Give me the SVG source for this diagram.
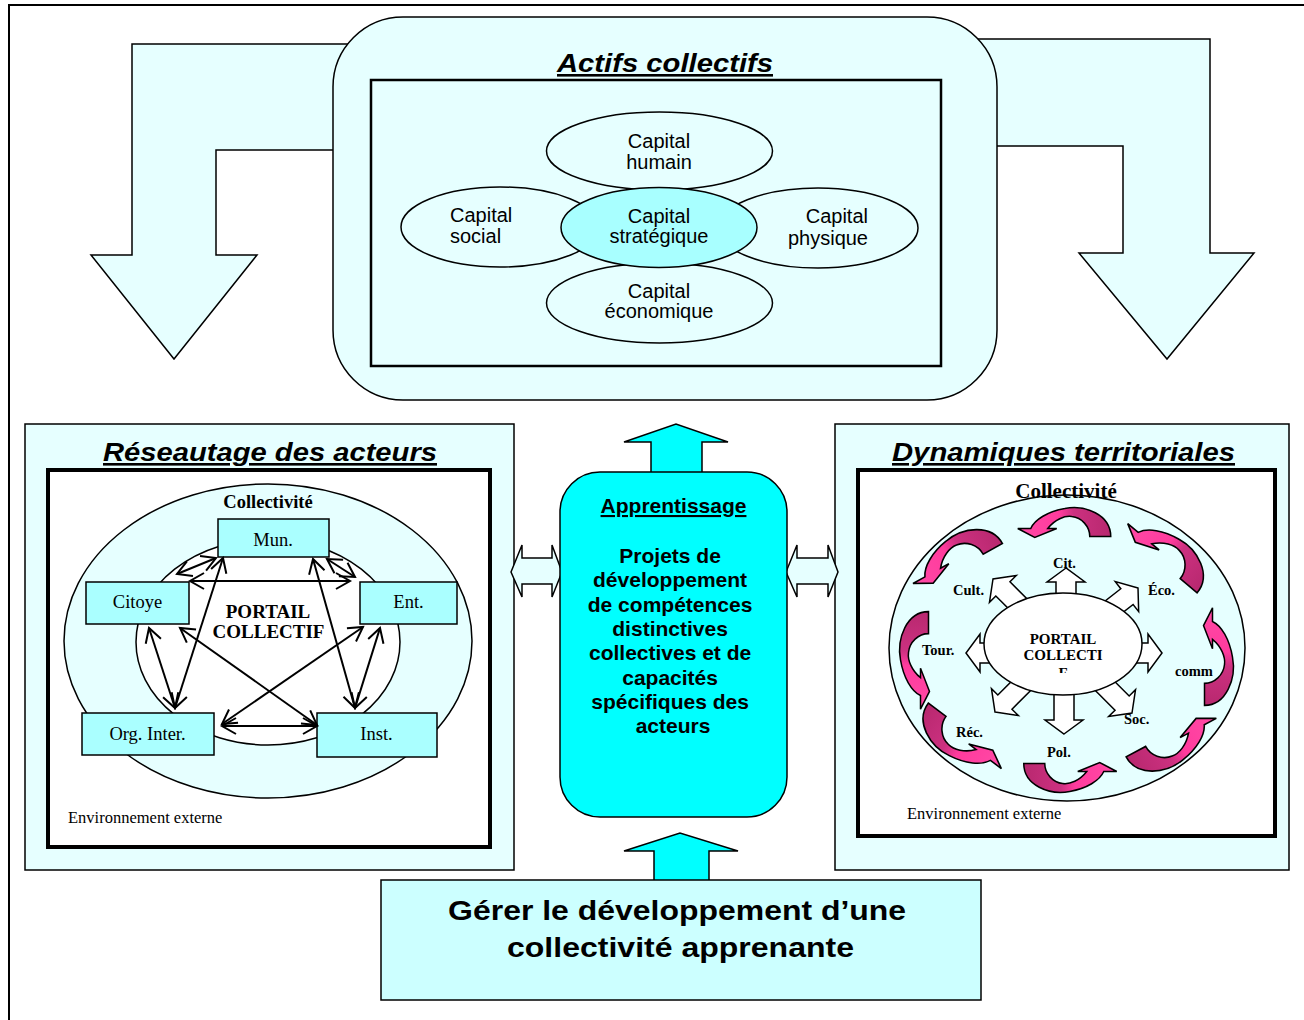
<svg xmlns="http://www.w3.org/2000/svg" xmlns:xlink="http://www.w3.org/1999/xlink" width="1304" height="1020" viewBox="0 0 1304 1020">
<style>
.sans{font-family:"Liberation Sans",Arial,sans-serif}
.serif{font-family:"Liberation Serif","Times New Roman",serif}
.title{font-weight:bold;font-style:italic;font-size:26px;text-decoration:underline}
.cap{font-size:20px}
.app{font-weight:bold;font-size:21px}
.lt{fill:#e6ffff;stroke:#000;stroke-width:1.5}
.box{fill:#aaffff;stroke:#000;stroke-width:1.5}
.frame{fill:#fff;stroke:#000;stroke-width:4}
.line{fill:none;stroke:#000;stroke-width:2;marker-start:url(#ah);marker-end:url(#ah)}
.cyan{fill:#00ffff;stroke:#000;stroke-width:1.5}
.wa{fill:#fff;stroke:#000;stroke-width:1.5}
.pa{fill:url(#pk);stroke:#000;stroke-width:1.5;stroke-linejoin:miter}
.lbl{font-weight:bold;font-size:14.5px}
</style>
<defs>
<marker id="ah" markerUnits="userSpaceOnUse" markerWidth="20" markerHeight="20" viewBox="-16 -10 20 20" refX="0" refY="0" orient="auto-start-reverse">
<path d="M-14,-8 L0,0 L-14,8" fill="none" stroke="#000" stroke-width="2"/>
</marker>
<linearGradient id="pk" x1="1" y1="0" x2="0" y2="0">
<stop offset="0" stop-color="#b8286f"/>
<stop offset="0.4" stop-color="#cc3180"/>
<stop offset="0.55" stop-color="#ff3b9d"/>
<stop offset="1" stop-color="#ff4aa6"/>
</linearGradient>
<path id="wa" d="M0,0 L-14,-19 L-14,-10 L-50,-10 L-50,10 L-14,10 L-14,19 Z"/>
<path id="pa" d="M46,12 C46,-10 20,-20 0,-16 C-17,-13 -30,-5 -34,4 L-47,4 L-30,13 L-8,4 L-17,4 C-10,-5 0,-9 7,-8 C17,-7 25,2 25,12 Z"/>
<clipPath id="fclip"><rect x="1000" y="600" width="130" height="73"/></clipPath>
</defs>

<rect width="1304" height="1020" fill="#fff"/>
<path d="M9,1020 V5 H1304" fill="none" stroke="#000" stroke-width="2"/>

<g id="connectors-back">
<polygon class="lt" points="360,44 132,44 132,255 91,255 174,359 257,255 216,255 216,150 360,150"/>
<polygon class="lt" points="960,39 1210,39 1210,253 1254,253 1167,359 1079,253 1123,253 1123,146 960,146"/>
</g>

<g id="actifs">
<rect class="lt" x="333" y="17" width="664" height="383" rx="70" ry="70"/>
<rect x="371" y="80" width="570" height="286" fill="#e6ffff" stroke="#000" stroke-width="2.5"/>
<text class="sans title" x="665" y="72" text-anchor="middle" textLength="216" lengthAdjust="spacingAndGlyphs">Actifs collectifs</text>
<g id="cap-humain"><ellipse class="lt" cx="659.5" cy="151" rx="113" ry="39"/>
<text class="sans cap" text-anchor="middle"><tspan x="659" y="148">Capital</tspan><tspan x="659" y="169">humain</tspan></text></g>
<g id="cap-economique"><ellipse class="lt" cx="659.5" cy="303" rx="113" ry="40"/>
<text class="sans cap" text-anchor="middle"><tspan x="659" y="298">Capital</tspan><tspan x="659" y="318">économique</tspan></text></g>
<g id="cap-social"><ellipse class="lt" cx="500" cy="227" rx="99" ry="40"/>
<text class="sans cap"><tspan x="450" y="222">Capital</tspan><tspan x="450" y="243">social</tspan></text></g>
<g id="cap-physique"><ellipse class="lt" cx="818" cy="228" rx="100" ry="40"/>
<text class="sans cap" text-anchor="end"><tspan x="868" y="223">Capital</tspan><tspan x="868" y="245">physique</tspan></text></g>
<g id="cap-strategique"><ellipse cx="659" cy="227.5" rx="98" ry="40" fill="#a8ffff" stroke="#000" stroke-width="1.5"/>
<text class="sans cap" text-anchor="middle"><tspan x="659" y="223">Capital</tspan><tspan x="659" y="243">stratégique</tspan></text></g>
</g>

<g id="reseautage">
<rect class="lt" x="25" y="424" width="489" height="446"/>
<text class="sans title" x="270" y="461" text-anchor="middle" textLength="334" lengthAdjust="spacingAndGlyphs">Réseautage des acteurs</text>
<rect class="frame" x="48" y="470" width="442" height="377"/>
<ellipse class="lt" cx="268" cy="641" rx="204" ry="157"/>
<ellipse cx="268" cy="642" rx="132" ry="103" fill="#fff" stroke="#000" stroke-width="1.5"/>
<text class="serif" x="268" y="508" text-anchor="middle" font-weight="bold" font-size="18.5">Collectivité</text>
<text class="serif" font-weight="bold" font-size="19" text-anchor="middle"><tspan x="268" y="618">PORTAIL</tspan><tspan x="268.5" y="638">COLLECTIF</tspan></text>
<text class="serif" x="68" y="823" font-size="16.5">Environnement externe</text>
<g id="mun"><rect class="box" x="218" y="519" width="111" height="38"/><text class="serif" x="273" y="546" text-anchor="middle" font-size="18.5">Mun.</text></g>
<g id="citoye"><rect class="box" x="86" y="582" width="103" height="42"/><text class="serif" x="137.5" y="608" text-anchor="middle" font-size="18.5">Citoye</text></g>
<g id="ent"><rect class="box" x="360" y="582" width="97" height="42"/><text class="serif" x="408.5" y="608" text-anchor="middle" font-size="18.5">Ent.</text></g>
<g id="org"><rect class="box" x="82" y="713" width="132" height="42"/><text class="serif" x="147.5" y="740" text-anchor="middle" font-size="18.5">Org. Inter.</text></g>
<g id="inst"><rect class="box" x="317" y="713" width="120" height="44"/><text class="serif" x="376.5" y="740" text-anchor="middle" font-size="18.5">Inst.</text></g>
</g>

<g id="dynamiques">
<rect class="lt" x="835" y="424" width="454" height="446"/>
<text class="sans title" x="1063.5" y="461" text-anchor="middle" textLength="343" lengthAdjust="spacingAndGlyphs">Dynamiques territoriales</text>
<rect class="frame" x="858" y="470" width="417" height="366"/>
<ellipse class="lt" cx="1067" cy="648" rx="178" ry="153"/>
<g id="radial-arrows">
<use xlink:href="#wa" class="wa" transform="translate(1066,568) rotate(-90)"/>
<use xlink:href="#wa" class="wa" transform="translate(1064,734) rotate(90)"/>
<use xlink:href="#wa" class="wa" transform="translate(966,653) rotate(180)"/>
<use xlink:href="#wa" class="wa" transform="translate(1162,653)"/>
<use xlink:href="#wa" class="wa" transform="translate(993,579) rotate(-135)"/>
<use xlink:href="#wa" class="wa" transform="translate(1138,588) rotate(-38)"/>
<use xlink:href="#wa" class="wa" transform="translate(995,712) rotate(135)"/>
<use xlink:href="#wa" class="wa" transform="translate(1132,713) rotate(45)"/>
</g>
<ellipse cx="1063" cy="644" rx="79" ry="51" fill="#fff" stroke="#000" stroke-width="1.5"/>
<text class="serif" font-weight="bold" font-size="15" text-anchor="middle"><tspan x="1063" y="644">PORTAIL</tspan><tspan x="1063" y="660">COLLECTI</tspan></text>
<text class="serif" font-weight="bold" font-size="15" text-anchor="middle" x="1063" y="678" clip-path="url(#fclip)">F</text>
<g id="curved-arrows">
<use xlink:href="#pa" class="pa" transform="translate(1067.5,537) translate(-2.75,-12.5)"/>
<use xlink:href="#pa" class="pa" transform="translate(1162,564) rotate(40) scale(1.05) translate(-2.75,-12.5)"/>
<use xlink:href="#pa" class="pa" transform="translate(1204,660) rotate(90) scale(1.05,1) translate(-2.75,-12.5)"/>
<use xlink:href="#pa" class="pa" transform="translate(1166,735) rotate(152) scale(1.05) translate(-2.75,-12.5)"/>
<use xlink:href="#pa" class="pa" transform="translate(1067,763) rotate(180) translate(-2.75,-12.5)"/>
<use xlink:href="#pa" class="pa" transform="translate(965,730) rotate(-143) scale(1.05) translate(-2.75,-12.5)"/>
<use xlink:href="#pa" class="pa" transform="translate(929,657) rotate(270) scale(1.05,1) translate(-2.75,-12.5)"/>
<use xlink:href="#pa" class="pa" transform="translate(963,566) rotate(-29) scale(1.05) translate(-2.75,-12.5)"/>
</g>
<g class="serif lbl">
<text x="1053" y="568">Cit.</text>
<text x="953" y="595">Cult.</text>
<text x="1148" y="595">Éco.</text>
<text x="922" y="655">Tour.</text>
<text x="1175" y="676">comm</text>
<text x="1124" y="724">Soc.</text>
<text x="956" y="737">Réc.</text>
<text x="1047" y="757">Pol.</text>
</g>
<text class="serif" x="1066" y="498" text-anchor="middle" font-weight="bold" font-size="21">Collectivité</text>
<text class="serif" x="907" y="819" font-size="16.5">Environnement externe</text>
</g>

<g id="connectors">
<line class="line" x1="177" y1="574" x2="216" y2="558"/>
<line class="line" x1="327" y1="559" x2="355" y2="577"/>
<line class="line" x1="190" y1="581" x2="350" y2="581"/>
<line class="line" x1="223" y1="558" x2="175" y2="708"/>
<line class="line" x1="313" y1="559" x2="355" y2="708"/>
<line class="line" x1="149" y1="628" x2="175" y2="708"/>
<line class="line" x1="180" y1="628" x2="317" y2="725"/>
<line class="line" x1="363" y1="627" x2="222" y2="724"/>
<line class="line" x1="380" y1="628" x2="355" y2="708"/>
<line class="line" x1="222" y1="726" x2="317" y2="726"/>
<polygon class="lt" points="511,572 522,545 522,558 552,558 552,545 562,572 552,597 552,584 522,584 522,597"/>
<polygon class="lt" points="786,572 797,545 797,558 828,558 828,545 838,572 828,597 828,584 797,584 797,597"/>
<polygon class="cyan" points="651,474 651,442 624,442 676,424 728,442 702,442 702,474"/>
<polygon class="cyan" points="654,881 654,851 624,851 680,833 738,851 709,851 709,881"/>
</g>

<g id="apprentissage">
<rect class="cyan" x="560" y="472" width="227" height="345" rx="40" ry="40"/>
<text class="sans app" x="673.5" y="513" text-anchor="middle" text-decoration="underline">Apprentissage</text>
<text class="sans app" text-anchor="middle">
<tspan x="673" y="563">Projets de</tspan>
<tspan x="673" y="587">développement</tspan>
<tspan x="673" y="612">de compétences</tspan>
<tspan x="673" y="636">distinctives</tspan>
<tspan x="673" y="660">collectives et de</tspan>
<tspan x="673" y="685">capacités</tspan>
<tspan x="673" y="709">spécifiques des</tspan>
<tspan x="673" y="733">acteurs</tspan>
</text>
</g>

<g id="gerer">
<rect x="381" y="880" width="600" height="120" fill="#ccffff" stroke="#000" stroke-width="1.5"/>
<text class="sans" font-weight="bold" font-size="28" text-anchor="middle">
<tspan x="681" y="920" textLength="458" lengthAdjust="spacingAndGlyphs">Gérer le développement d’une</tspan>
<tspan x="680.5" y="957" textLength="347" lengthAdjust="spacingAndGlyphs">collectivité apprenante</tspan>
</text>
</g>
</svg>
